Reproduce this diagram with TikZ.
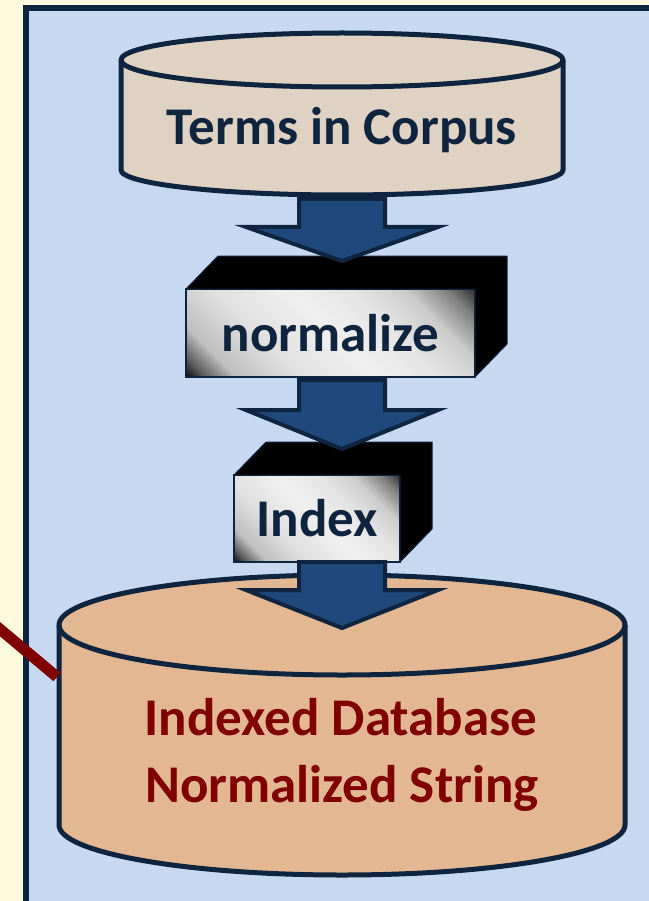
\documentclass[tikz,border=0pt]{standalone}
\usepackage{fontspec}
\setmainfont{Carlito}
\usepackage{tikz}
\usetikzlibrary{calc}
\usepackage{xcolor}
\definecolor{paperyellow}{HTML}{FFF9DE}
\definecolor{panelblue}{HTML}{C6D9F1}
\definecolor{inknavy}{HTML}{0F243E}
\definecolor{arrowblue}{HTML}{1F497D}
\definecolor{corpustan}{HTML}{E0D2C2}
\definecolor{dbtan}{HTML}{E2B792}
\definecolor{linkred}{HTML}{800000}
\pgfdeclarehorizontalshading{faceshade}{100bp}{color(0bp)=(black); color(32bp)=(black); color(34bp)=(black!65); color(37bp)=(black!25); color(43bp)=(black!12); color(50bp)=(black!6); color(56bp)=(black!10); color(61bp)=(black!20); color(65bp)=(black!50); color(68bp)=(black!85); color(100bp)=(black!85)}
% Blockpfeil nach unten: Mitte, Schaftanfang, Fluegel, Spitze
\newcommand{\blockdown}[4]{%
  \filldraw[blockarrow] (#1-43,#2) -- (#1-43,#3) -- (#1-96,#3) -- (#1,#4)
    -- (#1+96,#3) -- (#1+43,#3) -- (#1+43,#2) -- cycle;}

\begin{document}
\begin{tikzpicture}[x=1pt, y=-1pt,
  cyl/.style={draw=inknavy, line width=5pt, line join=round},
  blockarrow/.style={draw=inknavy, fill=arrowblue, line width=4pt, line join=miter},
  boxside/.style={fill=black, draw=inknavy, line width=1pt, line join=round},
  boxfront/.style={draw=inknavy, line width=1.5pt, outer sep=0pt, inner sep=0pt,
    path picture={\shade[shading=faceshade, shading angle=45]
      (path picture bounding box.center) +(-#1,-#1) rectangle +(#1,#1);}},
  boxtext/.style={font=\fontsize{53}{64}\selectfont\bfseries, text=inknavy, inner sep=0pt}]
  \useasboundingbox (0,0) rectangle (648,901);
  % Hintergrund und Tafel
  \fill[paperyellow] (-20,-20) rectangle (700,960);
  \fill[panelblue] (26,8) rectangle (700,960);
  \draw[inknavy, line width=6pt] (700,8) -- (26,8) -- (26,960);
  % Korpus oben
  \filldraw[cyl, fill=corpustan] (121,60) -- (121,170)
    arc[start angle=180, end angle=0, x radius=221, y radius=25] -- (563,60)
    arc[start angle=0, end angle=-180, x radius=221, y radius=27] -- cycle;
  \draw[cyl] (121,60) arc[start angle=180, end angle=0, x radius=221, y radius=27];
  \node[boxtext, anchor=base] (corpus) at (342,145) {Terms in Corpus};
  % Datenbank unten
  \filldraw[cyl, fill=dbtan] (59,625) -- (59,825)
    arc[start angle=180, end angle=0, x radius=283, y radius=50] -- (625,625)
    arc[start angle=0, end angle=-180, x radius=283, y radius=50] -- cycle;
  \draw[cyl] (59,625) arc[start angle=180, end angle=0, x radius=283, y radius=50];
  \node[boxtext, anchor=base, text=linkred] (dbtitle) at (341,735) {Indexed Database};
  \node[boxtext, anchor=base, text=linkred] (dbsub) at (342,802) {Normalized String};
  % Verarbeitungsschritte als Quader
  \node[boxtext, boxfront=188.5, minimum width=289pt, minimum height=88pt] (normalize) at (330.5,333) {normalize};
  \filldraw[boxside] (normalize.north west) -- ++(32,-33) -- ([shift={(32,-33)}]normalize.north east)
    -- ([shift={(32,-33)}]normalize.south east) -- (normalize.south east) -- (normalize.north east) -- cycle;
  \node[boxtext, boxfront=126.5, minimum width=166pt, minimum height=87pt] (index) at (317,518.5) {Index};
  \filldraw[boxside] (index.north west) -- ++(32,-33) -- ([shift={(32,-33)}]index.north east)
    -- ([shift={(32,-33)}]index.south east) -- (index.south east) -- (index.north east) -- cycle;
  % Pfeile
  \blockdown{342}{199}{227}{261}
  \blockdown{342}{380}{410}{449}
  \blockdown{342}{562}{590}{628}
  % Verbindung von links
  \coordinate (dbedge) at (57,677);
  \coordinate (offpage) at (-30,604);
  \draw[linkred, line width=11pt] (offpage) -- (dbedge);
\end{tikzpicture}
\end{document}
